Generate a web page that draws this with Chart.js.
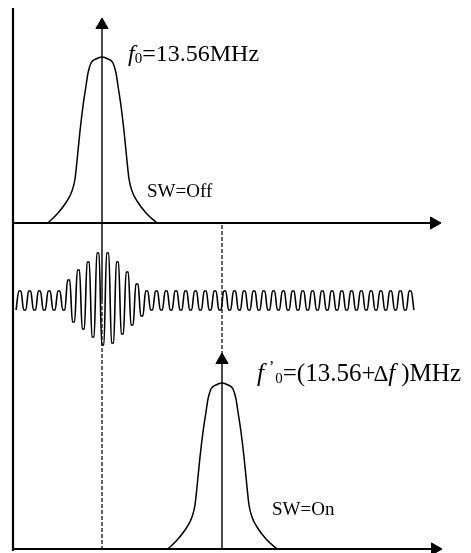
<!DOCTYPE html>
<html>
<head>
<meta charset="utf-8">
<script src="https://cdn.jsdelivr.net/npm/chart.js@4"></script>
<style>
  html, body { margin: 0; padding: 0; background: #fff; }
  canvas { display: block; }
</style>
</head>
<body>
<canvas id="chart" width="471" height="553"></canvas>
<script>
// spectrum shape: offset from the centre frequency / height above the axis
const specOffset = [-54, -44, -35, -30, -27, -25, -22, -19, -16, -14, -11, -6, 0,
                    6, 11, 14, 16, 19, 22, 25, 27, 30, 35, 44, 55];
const specLevel  = [0, 10, 22, 32, 44, 62, 92, 117, 137, 150, 160, 164, 166,
                    164, 160, 150, 137, 117, 92, 62, 44, 32, 22, 10, 0];

// centre frequencies (SW=Off / SW=On)
const f0 = 102;
const f0Shift = 222;

// carrier wave: successive extremes (up = +), read crest by crest
const waveLevels = [
  -10,
  9, -10, 9, -10, 9, -10, 9, -10, 9, -10,
  20, -22, 30, -29, 38, -37, 47, -45, 47, -43, 38, -34, 28, -25, 16, -16,
  9, -10, 9, -10, 9, -10, 9, -10, 9, -10, 9, -10, 9, -10, 9, -10, 9, -10,
  9, -10, 9, -10, 9, -10, 9, -10, 9, -10, 9, -10, 9, -10, 9, -10, 9, -10,
  9, -10, 9, -10, 9, -10, 9, -10, 9, -10, 9, -10, 9, -10, 9, -10, 9, -10,
  9, -10
];

const serif = '"Liberation Serif", "Times New Roman", serif';
const labels = {
  top: [
    { t: 'f', font: 'italic 24px ' + serif },
    { t: '0', font: '15px ' + serif, dy: 2 },
    { t: '=13.56MHz', font: '24px ' + serif }
  ],
  bottom: [
    { t: 'f', font: 'italic 25px ' + serif },
    { t: '\u2019', font: '16px ' + serif, dx: 5, dy: -9 },
    { t: '0', font: '15px ' + serif, dx: 1, dy: 2 },
    { t: '=(13.56+', font: '25px ' + serif },
    { t: '\u0394', font: '23px ' + serif, dx: -2 },
    { t: 'f', font: 'italic 25px ' + serif },
    { t: ')MHz', font: '25px ' + serif, dx: 6 }
  ],
  off: 'SW=Off',
  on: 'SW=On'
};

// layout of the three strips
const topAxisY = 223, botAxisY = 549, waveY = 300;
const axisLeft = 13, waveStart = 15, waveEnd = 415;
const capHalf = 1.1;   // half width of each rounded crest
const ink = '#000';

function spectrum(centre, base) {
  return specOffset.map((o, i) => ({ x: centre + o, y: base - specLevel[i] }));
}

// each extreme is drawn as a short flat cap so the carrier looks like the meander in the figure
const step = (waveEnd - waveStart) / (waveLevels.length - 1);
const wavePts = [];
waveLevels.forEach((v, i) => {
  const cx = waveStart + i * step;
  if (i > 0) wavePts.push({ x: cx - capHalf, y: waveY - v });
  if (i < waveLevels.length - 1) wavePts.push({ x: cx + capHalf, y: waveY - v });
});

function line(points, extra) {
  return Object.assign({
    data: points, borderColor: ink, backgroundColor: ink, borderWidth: 1.5,
    pointRadius: 0, fill: false, tension: 0
  }, extra || {});
}
function arrowHead(x, y, rot) {
  return line([{ x, y }], {
    showLine: false, pointStyle: 'triangle', pointRadius: 7, pointRotation: rot,
    pointBackgroundColor: ink, pointBorderColor: ink, pointBorderWidth: 1
  });
}

const datasets = [
  line(spectrum(f0, topAxisY), { cubicInterpolationMode: 'monotone' }),
  line(spectrum(f0Shift, botAxisY), { cubicInterpolationMode: 'monotone' }),
  line(wavePts, { cubicInterpolationMode: 'monotone', borderWidth: 1.6 }),
  // frame
  line([{ x: axisLeft, y: 8 }, { x: axisLeft, y: 551 }], { borderWidth: 2.2 }),
  line([{ x: axisLeft, y: topAxisY }, { x: 432, y: topAxisY }], { borderWidth: 2.2 }),
  line([{ x: axisLeft, y: botAxisY }, { x: 432, y: botAxisY }], { borderWidth: 2.2 }),
  arrowHead(434, topAxisY, 90),
  arrowHead(435, botAxisY, 90),
  // carrier arrows
  line([{ x: f0, y: 26 }, { x: f0, y: waveY }], { borderWidth: 1.4 }),
  arrowHead(f0, 25, 0),
  line([{ x: f0, y: waveY }, { x: f0, y: botAxisY }], { borderWidth: 1.2, borderDash: [4, 2] }),
  line([{ x: f0Shift, y: 361 }, { x: f0Shift, y: botAxisY }], { borderWidth: 1.4 }),
  arrowHead(f0Shift, 360, 0),
  line([{ x: f0Shift, y: topAxisY + 2 }, { x: f0Shift, y: 355 }], { borderWidth: 1.2, borderDash: [4, 2] })
];

function drawRuns(ctx, runs, x, y) {
  runs.forEach(r => {
    ctx.font = r.font;
    x += r.dx || 0;
    ctx.fillText(r.t, x, y + (r.dy || 0));
    x += ctx.measureText(r.t).width;
  });
}

const textPlugin = {
  id: 'texts',
  afterDatasetsDraw(chart) {
    const ctx = chart.ctx;
    const sx = chart.scales.x, sy = chart.scales.y;
    ctx.save();
    ctx.fillStyle = ink;
    ctx.textBaseline = 'alphabetic';
    drawRuns(ctx, labels.top, sx.getPixelForValue(128), sy.getPixelForValue(61));
    drawRuns(ctx, labels.bottom, sx.getPixelForValue(257), sy.getPixelForValue(381));
    ctx.font = '19px ' + serif;
    ctx.fillText(labels.off, sx.getPixelForValue(147), sy.getPixelForValue(197));
    ctx.fillText(labels.on, sx.getPixelForValue(272), sy.getPixelForValue(515));
    ctx.restore();
  }
};

new Chart(document.getElementById('chart'), {
  type: 'line',
  data: { datasets },
  options: {
    responsive: false,
    animation: false,
    layout: { padding: 0, autoPadding: false },
    scales: {
      x: { type: 'linear', min: 0, max: 471, display: false },
      y: { type: 'linear', min: 0, max: 553, reverse: true, display: false }
    },
    plugins: { legend: { display: false }, tooltip: { enabled: false } }
  },
  plugins: [textPlugin]
});
</script>
</body>
</html>
